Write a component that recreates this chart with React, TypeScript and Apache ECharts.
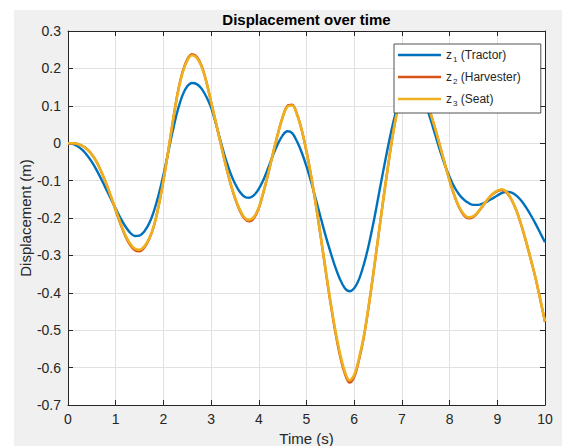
import React, { useEffect, useRef } from "react";
import * as echarts from "echarts";

const titleText = "Displacement over time";
const xAxisName = "Time (s)";
const yAxisName = "Displacement (m)";
const seriesNames = ["z1 (Tractor)", "z2 (Harvester)", "z3 (Seat)"];
const seriesColors = ["#0072BD", "#D95319", "#EDB120"];

// time samples (s)
const times = [
  0.0, 0.1, 0.2, 0.3, 0.4, 0.5, 0.6, 0.7, 0.8, 0.9,
  1.0, 1.1, 1.2, 1.3, 1.4, 1.5, 1.6, 1.7, 1.8, 1.9,
  2.0, 2.1, 2.2, 2.3, 2.4, 2.5, 2.6, 2.7, 2.8, 2.9,
  3.0, 3.1, 3.2, 3.3, 3.4, 3.5, 3.6, 3.7, 3.8, 3.9,
  4.0, 4.1, 4.2, 4.3, 4.4, 4.5, 4.6, 4.7, 4.8, 4.9,
  5.0, 5.1, 5.2, 5.3, 5.4, 5.5, 5.6, 5.7, 5.8, 5.9,
  6.0, 6.1, 6.2, 6.3, 6.4, 6.5, 6.6, 6.7, 6.8, 6.9,
  7.0, 7.1, 7.2, 7.3, 7.4, 7.5, 7.6, 7.7, 7.8, 7.9,
  8.0, 8.1, 8.2, 8.3, 8.4, 8.5, 8.6, 8.7, 8.8, 8.9,
  9.0, 9.1, 9.2, 9.3, 9.4, 9.5, 9.6, 9.7, 9.8, 9.9,
  10.0,
];

// z1 (Tractor)
const z1 = [
  0.0, -0.002, -0.008, -0.018, -0.032, -0.05, -0.072, -0.097, -0.123, -0.149,
  -0.175, -0.2, -0.222, -0.239, -0.248, -0.247, -0.236, -0.215, -0.182, -0.138,
  -0.085, -0.025, 0.035, 0.088, 0.128, 0.152, 0.161, 0.158, 0.146, 0.124,
  0.095, 0.052, 0.005, -0.04, -0.078, -0.108, -0.13, -0.143, -0.146, -0.139,
  -0.122, -0.097, -0.065, -0.031, -0.002, 0.021, 0.032, 0.027, 0.005, -0.025,
  -0.062, -0.105, -0.152, -0.2, -0.247, -0.29, -0.33, -0.363, -0.387, -0.396,
  -0.388, -0.364, -0.325, -0.275, -0.215, -0.148, -0.08, -0.015, 0.045, 0.095,
  0.133, 0.157, 0.166, 0.158, 0.136, 0.103, 0.064, 0.022, -0.02, -0.058,
  -0.09, -0.117, -0.137, -0.151, -0.16, -0.165, -0.165, -0.161, -0.155, -0.148,
  -0.14, -0.133, -0.13, -0.132, -0.14, -0.153, -0.171, -0.192, -0.215, -0.24,
  -0.265,
];

// z2 (Harvester)
const z2 = [
  0.0, 0.0, -0.002, -0.007, -0.016, -0.03, -0.05, -0.077, -0.108, -0.143,
  -0.18, -0.216, -0.248, -0.272, -0.286, -0.289, -0.279, -0.257, -0.222, -0.168,
  -0.1, -0.022, 0.06, 0.135, 0.19, 0.224, 0.238, 0.231, 0.207, 0.165,
  0.11, 0.055, 0.0, -0.055, -0.105, -0.147, -0.18, -0.202, -0.209, -0.2,
  -0.174, -0.13, -0.08, -0.026, 0.025, 0.07, 0.1, 0.103, 0.078, 0.035,
  -0.022, -0.09, -0.168, -0.252, -0.34, -0.425, -0.502, -0.567, -0.615, -0.64,
  -0.625, -0.58, -0.52, -0.44, -0.35, -0.255, -0.16, -0.07, 0.015, 0.085,
  0.135, 0.163, 0.175, 0.168, 0.15, 0.118, 0.08, 0.038, -0.008, -0.055,
  -0.1, -0.14, -0.172, -0.193, -0.201, -0.197, -0.184, -0.167, -0.15, -0.137,
  -0.128, -0.125, -0.133, -0.152, -0.18, -0.218, -0.262, -0.31, -0.36, -0.418,
  -0.478,
];

// z3 (Seat)
const z3 = [
  0.0, 0.0, -0.002, -0.007, -0.016, -0.03, -0.05, -0.077, -0.107, -0.142,
  -0.178, -0.213, -0.245, -0.268, -0.282, -0.285, -0.276, -0.255, -0.221, -0.168,
  -0.1, -0.022, 0.059, 0.133, 0.187, 0.221, 0.235, 0.228, 0.205, 0.164,
  0.11, 0.055, 0.0, -0.055, -0.104, -0.145, -0.177, -0.199, -0.205, -0.197,
  -0.172, -0.129, -0.08, -0.026, 0.025, 0.069, 0.098, 0.101, 0.077, 0.035,
  -0.022, -0.09, -0.167, -0.25, -0.337, -0.421, -0.497, -0.561, -0.609, -0.634,
  -0.62, -0.576, -0.517, -0.438, -0.349, -0.255, -0.16, -0.07, 0.015, 0.084,
  0.133, 0.161, 0.172, 0.166, 0.148, 0.117, 0.08, 0.038, -0.008, -0.055,
  -0.1, -0.139, -0.17, -0.19, -0.198, -0.195, -0.183, -0.166, -0.15, -0.136,
  -0.127, -0.123, -0.131, -0.151, -0.18, -0.217, -0.261, -0.309, -0.359, -0.417,
  -0.477,
];

const seriesValues = [z1, z2, z3];

const textColor = "#262626";
const font = "'Liberation Sans', Arial, Helvetica, sans-serif";

export default function App() {
  const ref = useRef<HTMLDivElement>(null);

  useEffect(() => {
    if (!ref.current) return;
    const chart = echarts.init(ref.current, undefined, { renderer: "svg" });

    const axisCommon = {
      type: "value" as const,
      axisLine: { show: true, onZero: false, lineStyle: { color: textColor, width: 1 } },
      axisTick: { show: true, inside: true, length: 5, lineStyle: { color: textColor } },
    };

    chart.setOption({
      animation: false,
      backgroundColor: "#f0f0f0",
      textStyle: { fontFamily: font },
      title: {
        text: titleText,
        left: 292.5,
        top: 2,
        textAlign: "center",
        padding: 0,
        textStyle: { fontSize: 15, fontWeight: "bold", color: "#000", fontFamily: font },
      },
      grid: {
        left: 54,
        top: 21,
        right: 17,
        bottom: 41,
        show: true,
        containLabel: false,
        outerBoundsMode: "none",
        backgroundColor: "#ffffff",
        borderWidth: 0,
      },
      legend: {
        orient: "vertical",
        left: 380,
        top: 34,
        z: 10,
        padding: [5, 20, 6, 4],
        itemGap: 8,
        itemWidth: 43,
        itemHeight: 2.5,
        icon: "rect",
        backgroundColor: "#ffffff",
        borderColor: textColor,
        borderWidth: 0.8,
        borderRadius: 0,
        data: seriesNames,
        formatter: (name: string) => {
          const m = name.match(/^z(\d) (.*)$/);
          if (!m) return name;
          return `{b|z}{s|${m[1]}}{b| ${m[2]}}`;
        },
        textStyle: {
          color: textColor,
          fontSize: 12,
          fontFamily: font,
          rich: {
            b: { fontSize: 12, lineHeight: 16, color: textColor, fontFamily: font },
            s: { fontSize: 8, lineHeight: 8, verticalAlign: "bottom", color: textColor, fontFamily: font, padding: [0, 0, 0, 1] },
          },
        },
      },
      xAxis: [
        {
          ...axisCommon,
          position: "bottom",
          min: 0,
          max: 10,
          interval: 1,
          name: xAxisName,
          nameLocation: "middle",
          nameMoveOverlap: false,
          nameGap: 26,
          nameTextStyle: { fontSize: 15, color: textColor, fontFamily: font },
          axisLabel: { fontSize: 14, color: textColor, margin: 7, fontFamily: font },
          splitLine: { show: true, lineStyle: { color: "#e1e1e1", width: 1 } },
        },
        {
          ...axisCommon,
          position: "top",
          min: 0,
          max: 10,
          interval: 1,
          axisLabel: { show: false },
          splitLine: { show: false },
        },
      ],
      yAxis: [
        {
          ...axisCommon,
          position: "left",
          min: -0.7,
          max: 0.3,
          interval: 0.1,
          name: yAxisName,
          nameLocation: "middle",
          nameMoveOverlap: false,
          nameGap: 35,
          nameTextStyle: { fontSize: 15, color: textColor, fontFamily: font },
          axisLabel: { fontSize: 14, color: textColor, margin: 7, fontFamily: font },
          splitLine: { show: true, lineStyle: { color: "#e1e1e1", width: 1 } },
        },
        {
          ...axisCommon,
          position: "right",
          min: -0.7,
          max: 0.3,
          interval: 0.1,
          axisLabel: { show: false },
          splitLine: { show: false },
        },
      ],
      series: seriesNames.map((name, i) => ({
        name,
        type: "line",
        xAxisIndex: 0,
        yAxisIndex: 0,
        showSymbol: false,
        smooth: 0.35,
        color: seriesColors[i],
        lineStyle: { color: seriesColors[i], width: i === 2 ? 2.6 : 2.4 },
        z: 2 + i,
        data: times.map((t, k) => [t, seriesValues[i][k]]),
      })),
    });

    return () => chart.dispose();
  }, []);

  return (
    <div style={{ position: "fixed", left: 0, top: 0, width: 562, height: 446, background: "#ffffff" }}>
      <div ref={ref} style={{ position: "absolute", left: 14, top: 10, width: 548, height: 436 }} />
    </div>
  );
}
